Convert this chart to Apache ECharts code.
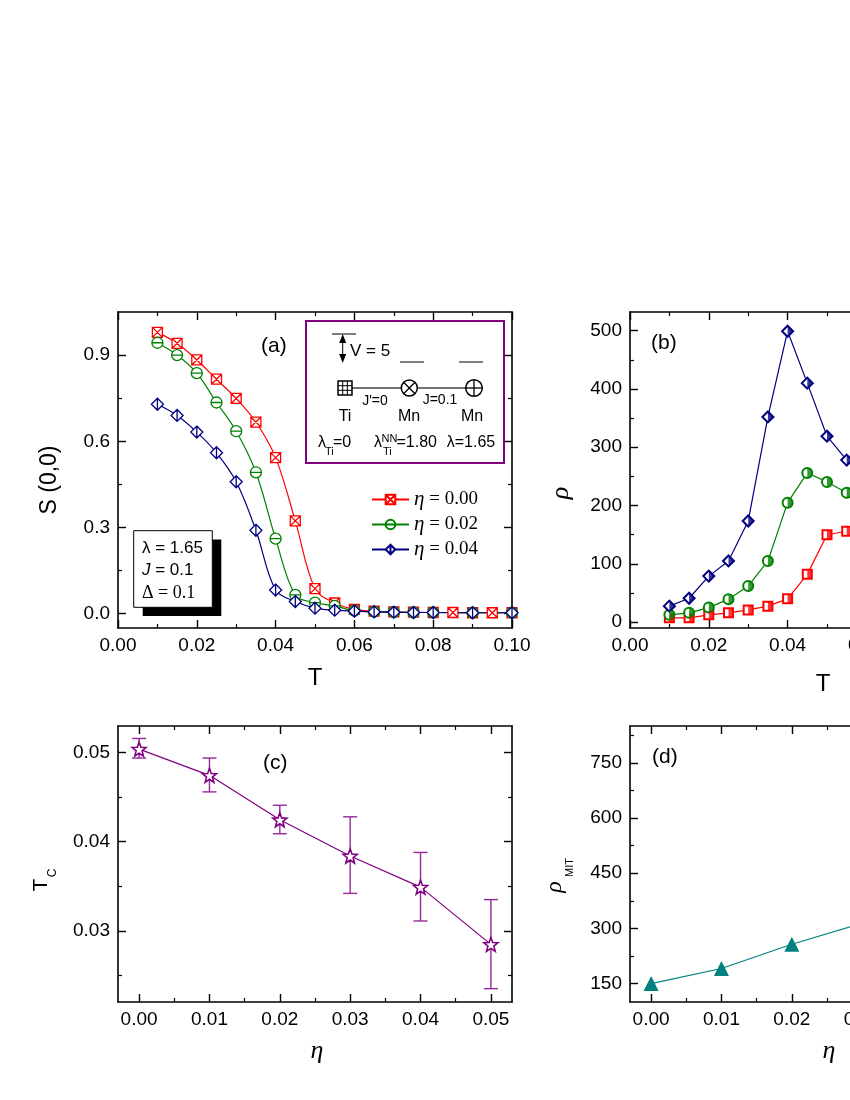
<!DOCTYPE html>
<html>
<head>
<meta charset="utf-8">
<script src="https://cdn.jsdelivr.net/npm/echarts@6.0.0/dist/echarts.min.js"></script>
<style>
html, body { margin: 0; padding: 0; background: #fff; }
#main { width: 850px; height: 1100px; }
</style>
</head>
<body>
<div id="main"></div>
<script>
// ---- data ----
// (a) S(0,0) vs T
var tRed = [0.01, 0.015, 0.02, 0.025, 0.03, 0.035, 0.04, 0.045, 0.05, 0.055, 0.06, 0.065, 0.07, 0.075, 0.08, 0.085, 0.09, 0.095, 0.1];
var sRed = [0.979, 0.941, 0.883, 0.816, 0.749, 0.667, 0.543, 0.323, 0.087, 0.037, 0.015, 0.009, 0.006, 0.005, 0.004, 0.004, 0.003, 0.003, 0.003];
var tGB = [0.01, 0.015, 0.02, 0.025, 0.03, 0.035, 0.04, 0.045, 0.05, 0.055, 0.06, 0.065, 0.07, 0.075, 0.08, 0.09, 0.1];
var sGreen = [0.943, 0.900, 0.837, 0.735, 0.635, 0.492, 0.261, 0.065, 0.038, 0.027, 0.010, 0.007, 0.005, 0.004, 0.004, 0.003, 0.003];
var sBlue = [0.729, 0.690, 0.632, 0.560, 0.459, 0.290, 0.082, 0.042, 0.019, 0.012, 0.009, 0.006, 0.005, 0.004, 0.004, 0.003, 0.003];
var namesA = ['η = 0.00', 'η = 0.02', 'η = 0.04'];

// (b) rho vs T
var tB = [0.01, 0.015, 0.02, 0.025, 0.03, 0.035, 0.04, 0.045, 0.05, 0.055, 0.06];
var rhoRed = [7.4, 7.4, 12.6, 16, 21, 27.5, 40, 82, 150, 156, 158];
var rhoGreen = [12.6, 16, 25, 39.5, 62, 105, 205, 256, 240.5, 222, 212];
var rhoBlue = [27.5, 41, 79, 105, 173.5, 352, 499, 410, 319, 278, 262];

// (c) Tc vs eta
var etaC = [0, 0.01, 0.02, 0.03, 0.04, 0.05];
var tc = [0.0504, 0.04746, 0.04247, 0.0384, 0.0349, 0.02847];
var tcLow = [0.0494, 0.0456, 0.0409, 0.0342, 0.0311, 0.0235];
var tcHigh = [0.0516, 0.0494, 0.0441, 0.0428, 0.0388, 0.0335];

// (d) rho_MIT vs eta
var etaD = [0, 0.01, 0.02, 0.03];
var rhoMIT = [150, 191, 257, 314];

// tick values
var aXTicks = [0, 0.02, 0.04, 0.06, 0.08, 0.1];
var aXMinor = [0.01, 0.03, 0.05, 0.07, 0.09];
var aYTicks = [0, 0.3, 0.6, 0.9];
var aYMinor = [0.15, 0.45, 0.75];
var bYTicks = [0, 100, 200, 300, 400, 500];
var bYMinor = [50, 150, 250, 350, 450];
var cXTicks = [0, 0.01, 0.02, 0.03, 0.04, 0.05];
var cXMinor = [0.005, 0.015, 0.025, 0.035, 0.045];
var cYTicks = [0.03, 0.04, 0.05];
var cYMinor = [0.025, 0.035, 0.045];
var dYTicks = [150, 300, 450, 600, 750];
var dYMinor = [225, 375, 525, 675, 825];

var SANS = '"Liberation Sans", Arial, sans-serif';
var SERIF = '"Liberation Serif", "Times New Roman", serif';

function zip(xs, ys) {
    return xs.map(function (x, i) { return [x, ys[i]]; });
}
function fix(n) {
    return function (v) { return v.toFixed(n); };
}

var xAxes = [], yAxes = [];
// major + minor axes on both sides of a grid, ticks pointing inside
function addAxes(list, grid, horizontal, min, max, major, minor, fmt) {
    var idx = list.length;
    var sides = horizontal ? ['bottom', 'top'] : ['left', 'right'];
    sides.forEach(function (side, k) {
        list.push({
            type: 'value', gridIndex: grid, position: side, min: min, max: max,
            axisLine: { show: true, onZero: false, lineStyle: { color: '#000', width: 1.6 } },
            axisTick: { show: true, inside: true, length: 8, customValues: major, lineStyle: { color: '#000', width: 1.4 } },
            axisLabel: { show: k === 0, customValues: major, formatter: fmt, margin: 8, color: '#000', fontSize: 19, fontFamily: SANS },
            splitLine: { show: false }
        });
        list.push({
            type: 'value', gridIndex: grid, position: side, min: min, max: max,
            axisLine: { show: false, onZero: false },
            axisTick: { show: true, inside: true, length: 4, customValues: minor, lineStyle: { color: '#000', width: 1.2 } },
            axisLabel: { show: false },
            splitLine: { show: false }
        });
    });
    return idx;
}

var axA = addAxes(xAxes, 0, true, 0, 0.1, aXTicks, aXMinor, fix(2));
var ayA = addAxes(yAxes, 0, false, -0.05, 1.05, aYTicks, aYMinor, fix(1));
var axB = addAxes(xAxes, 1, true, 0, 0.1, aXTicks, aXMinor, fix(2));
var ayB = addAxes(yAxes, 1, false, -10, 532, bYTicks, bYMinor, fix(0));
var axC = addAxes(xAxes, 2, true, -0.003, 0.053, cXTicks, cXMinor, fix(2));
var ayC = addAxes(yAxes, 2, false, 0.022, 0.053, cYTicks, cYMinor, fix(2));
var axD = addAxes(xAxes, 3, true, -0.003, 0.053, cXTicks, cXMinor, fix(2));
var ayD = addAxes(yAxes, 3, false, 100, 850, dYTicks, dYMinor, fix(0));

var RED = '#ff0000', GREEN = '#008000', BLUE = '#000080', PURPLE = '#800080', TEAL = '#008080';
var SYM_SQX = 'path://M0 0L10 0L10 10L0 10ZM0 0L10 10M10 0L0 10';
var SYM_CIRH = 'path://M0 5A5 5 0 1 1 10 5A5 5 0 1 1 0 5ZM0 5L10 5';
var SYM_DIAV = 'path://M5 0L10 5L5 10L0 5ZM5 0L5 10';
var SYM_STAR = 'path://M10 0L12.47 6.6L19.51 6.91L14 11.3L15.88 18.09L10 14.2L4.12 18.09L6 11.3L0.49 6.91L7.53 6.6Z';

function smoothLine(name, xs, ys, color, sym, size) {
    return {
        type: 'line', name: name, xAxisIndex: axA, yAxisIndex: ayA, data: zip(xs, ys),
        smooth: 0.35, symbol: sym, symbolSize: size,
        lineStyle: { color: color, width: 1.2 },
        itemStyle: { color: '#fff', borderColor: color, borderWidth: 1.3 },
        z: 3
    };
}
function halfMarkerLine(name, ys, color, emptySym, halfSym, size) {
    return [{
        type: 'line', name: name, xAxisIndex: axB, yAxisIndex: ayB, data: zip(tB, ys),
        symbol: emptySym, symbolSize: size,
        lineStyle: { color: color, width: 1.2 },
        itemStyle: { color: color, borderColor: color, borderWidth: 1.2 },
        z: 3
    }, {
        type: 'scatter', name: name + ' fill', xAxisIndex: axB, yAxisIndex: ayB, data: zip(tB, ys),
        symbol: halfSym, symbolSize: [size / 2, size], symbolOffset: [size / 4, 0],
        itemStyle: { color: color },
        z: 4
    }];
}

var series = [
    smoothLine(namesA[0], tRed, sRed, RED, SYM_SQX, 10),
    smoothLine(namesA[1], tGB, sGreen, GREEN, SYM_CIRH, 11),
    smoothLine(namesA[2], tGB, sBlue, BLUE, SYM_DIAV, 12)
];
series = series.concat(halfMarkerLine('b-red', rhoRed, RED, 'emptyRect', 'rect', 9));
series = series.concat(halfMarkerLine('b-green', rhoGreen, GREEN, 'emptyCircle', 'path://M0 0A1 1 0 0 1 0 2Z', 10));
series = series.concat(halfMarkerLine('b-blue', rhoBlue, BLUE, 'emptyDiamond', 'path://M0 0L1 1L0 2Z', 11));

series.push({
    type: 'custom', name: 'c-err', xAxisIndex: axC, yAxisIndex: ayC,
    data: etaC.map(function (e, i) { return [e, tcLow[i], tcHigh[i]]; }),
    encode: { x: 0, y: [1, 2] },
    renderItem: function (params, api) {
        var lo = api.coord([api.value(0), api.value(1)]);
        var hi = api.coord([api.value(0), api.value(2)]);
        var st = { stroke: '#962896', lineWidth: 1.4 };
        return {
            type: 'group',
            children: [
                { type: 'line', shape: { x1: lo[0], y1: lo[1], x2: hi[0], y2: hi[1] }, style: st },
                { type: 'line', shape: { x1: lo[0] - 7, y1: lo[1], x2: lo[0] + 7, y2: lo[1] }, style: st },
                { type: 'line', shape: { x1: hi[0] - 7, y1: hi[1], x2: hi[0] + 7, y2: hi[1] }, style: st }
            ]
        };
    },
    z: 2
});
series.push({
    type: 'line', name: 'c-tc', xAxisIndex: axC, yAxisIndex: ayC, data: zip(etaC, tc),
    symbol: SYM_STAR, symbolSize: 14,
    lineStyle: { color: PURPLE, width: 1.2 },
    itemStyle: { color: '#fff', borderColor: PURPLE, borderWidth: 1.6 },
    z: 3
});
series.push({
    type: 'line', name: 'd-rho', xAxisIndex: axD, yAxisIndex: ayD, data: zip(etaD, rhoMIT),
    symbol: 'triangle', symbolSize: 15,
    lineStyle: { color: TEAL, width: 1.2 },
    itemStyle: { color: TEAL },
    z: 3
});

// ---- annotation graphics ----
function txt(x, y, s, size, opts) {
    opts = opts || {};
    return {
        type: 'text', x: x, y: y, rotation: opts.rot || 0, z: 100,
        style: {
            text: s, fontSize: size, fontFamily: opts.family || SANS, fontStyle: opts.style || 'normal',
            fill: '#000', align: opts.align || 'left', verticalAlign: 'middle', rich: opts.rich
        }
    };
}
function ln(x1, y1, x2, y2, color, w) {
    return { type: 'line', z: 100, shape: { x1: x1, y1: y1, x2: x2, y2: y2 }, style: { stroke: color || '#000', lineWidth: w || 1 } };
}
var R90 = Math.PI / 2;
var graphics = [
    // panel letters
    txt(261, 346, '(a)', 21), txt(651, 343, '(b)', 21), txt(263, 763, '(c)', 21), txt(652, 757, '(d)', 21),
    // axis names
    txt(315, 678, 'T', 24, { align: 'center' }),
    txt(823, 684, 'T', 24, { align: 'center' }),
    txt(317, 1051, 'η', 26, { align: 'center', family: SERIF, style: 'italic' }),
    txt(829, 1051, 'η', 26, { align: 'center', family: SERIF, style: 'italic' }),
    txt(50, 480, 'S (0,0)', 23, { align: 'center', rot: R90 }),
    txt(561, 493, 'ρ', 26, { align: 'center', rot: R90, family: SERIF, style: 'italic' }),
    txt(41.5, 885, 'T', 21, { align: 'center', rot: R90 }),
    txt(53, 873, 'C', 12, { align: 'center', rot: R90 }),
    txt(555, 887, 'ρ', 24, { align: 'center', rot: R90, family: SERIF, style: 'italic' }),
    txt(570, 867.5, 'MIT', 11, { align: 'center', rot: R90 }),

    // inset in (a)
    { type: 'rect', z: 99, shape: { x: 306, y: 321, width: 198, height: 142 }, style: { fill: '#fff', stroke: PURPLE, lineWidth: 2 } },
    ln(332, 334, 356, 334),
    ln(342.7, 338, 342.7, 359),
    { type: 'polygon', z: 100, shape: { points: [[342.7, 334], [339.2, 343], [346.2, 343]] }, style: { fill: '#000' } },
    { type: 'polygon', z: 100, shape: { points: [[342.7, 363], [339.2, 354], [346.2, 354]] }, style: { fill: '#000' } },
    txt(350, 351, 'V = 5', 17),
    ln(400, 362, 424, 362), ln(459, 362, 483, 362),
    ln(352, 388, 401, 388, '#444', 1.5), ln(417.5, 388, 465.5, 388, '#444', 1.5),
    { type: 'rect', z: 100, shape: { x: 338, y: 381, width: 14, height: 14 }, style: { fill: '#fff', stroke: '#000', lineWidth: 1.5 } },
    ln(342.7, 381, 342.7, 395), ln(347.3, 381, 347.3, 395), ln(338, 385.7, 352, 385.7), ln(338, 390.3, 352, 390.3),
    { type: 'circle', z: 100, shape: { cx: 409.3, cy: 388, r: 8 }, style: { fill: '#fff', stroke: '#000', lineWidth: 1.5 } },
    ln(403.6, 382.3, 415, 393.7, '#000', 1.3), ln(403.6, 393.7, 415, 382.3, '#000', 1.3),
    { type: 'circle', z: 100, shape: { cx: 474, cy: 388, r: 8.3 }, style: { fill: '#fff', stroke: '#000', lineWidth: 1.5 } },
    ln(465.7, 388, 482.3, 388, '#000', 1.3), ln(474, 379.7, 474, 396.3, '#000', 1.3),
    txt(375, 401, "J'=0", 14, { align: 'center' }),
    txt(440, 400, 'J=0.1', 14, { align: 'center' }),
    txt(345, 417, 'Ti', 16, { align: 'center' }),
    txt(409, 417, 'Mn', 16, { align: 'center' }),
    txt(472, 417, 'Mn', 16, { align: 'center' }),
    txt(318, 443, 'λ', 16), txt(325, 452, 'Ti', 11), txt(333, 443, '=0', 16),
    txt(374, 443, 'λ', 16), txt(381.5, 438.5, 'NN', 11), txt(383, 452, 'Ti', 11), txt(396.5, 443, '=1.80', 16),
    txt(446.7, 443, 'λ=1.65', 16),

    // parameter box in (a)
    { type: 'rect', z: 99, shape: { x: 142.7, y: 539.5, width: 78.6, height: 76.6 }, style: { fill: '#000' } },
    { type: 'rect', z: 99, shape: { x: 133.7, y: 530.7, width: 78.6, height: 76.6 }, style: { fill: '#fff', stroke: '#000', lineWidth: 1 } },
    txt(142, 548, 'λ = 1.65', 17),
    txt(142, 570, '{i|J} = 0.1', 17, { rich: { i: { fontStyle: 'italic', fontFamily: SANS, fontSize: 17 } } }),
    txt(142, 593, 'Δ = 0.1', 18, { family: SERIF })
];

var myChart = echarts.init(document.getElementById('main'), null, { renderer: 'canvas' });
var option = {
    animation: false,
    backgroundColor: '#fff',
    grid: [
        { left: 118, top: 312, width: 394, height: 316, outerBoundsMode: 'none' },
        { left: 630, top: 312, width: 394, height: 316, outerBoundsMode: 'none' },
        { left: 118, top: 726, width: 394, height: 276, outerBoundsMode: 'none' },
        { left: 630, top: 726, width: 394, height: 276, outerBoundsMode: 'none' }
    ],
    xAxis: xAxes,
    yAxis: yAxes,
    legend: {
        data: namesA, orient: 'vertical', left: 366, top: 484,
        itemWidth: 37, itemHeight: 12, itemGap: 4, selectedMode: false,
        textStyle: { fontFamily: SERIF, fontSize: 19, color: '#000', rich: { i: { fontStyle: 'italic', fontFamily: SERIF, fontSize: 21 } } },
        formatter: function (n) { return '{i|η} = ' + n.split('= ')[1]; }
    },
    series: series,
    graphic: { elements: graphics }
};
myChart.setOption(option);
</script>
</body>
</html>
